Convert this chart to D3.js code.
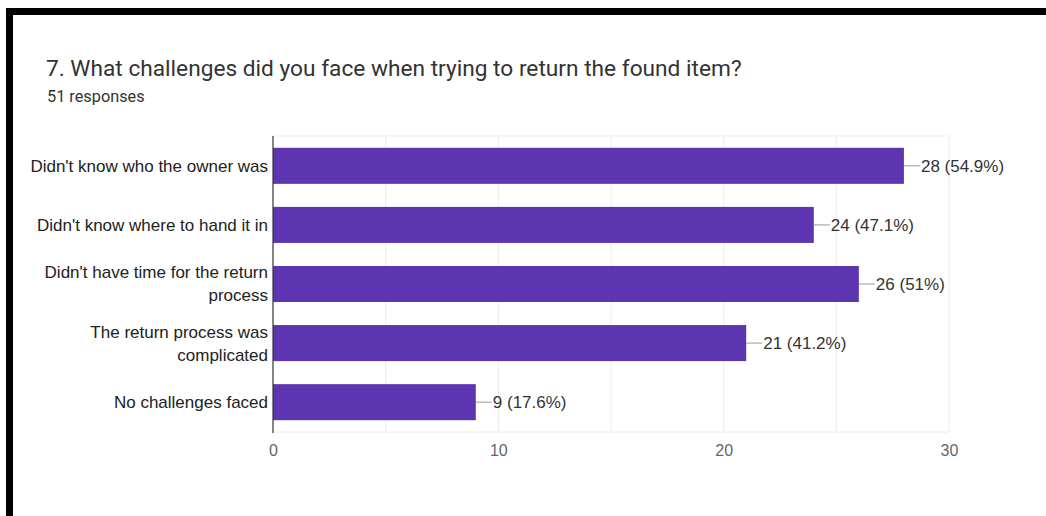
<!DOCTYPE html>
<html>
<head>
<meta charset="utf-8">
<script src="https://cdn.jsdelivr.net/npm/d3@7"></script>
<style>
  html, body { margin: 0; padding: 0; background: #fff; }
  svg { display: block; }
</style>
</head>
<body>
<svg id="chart" width="1046" height="516"></svg>
<script>
// Survey question 7: challenges faced when returning a found item
const categories = [
  ["Didn't know who the owner was"],
  ["Didn't know where to hand it in"],
  ["Didn't have time for the return", "process"],
  ["The return process was", "complicated"],
  ["No challenges faced"]
];
const counts = [28, 24, 26, 21, 9];
const percents = ["54.9%", "47.1%", "51%", "41.2%", "17.6%"];
const xTicks = [0, 10, 20, 30];
const gridTicks = [0, 5, 10, 15, 20, 25, 30];
const totalResponses = 51;

const svg = d3.select("#chart");
const titleFont = "Roboto, 'Liberation Sans', Arial, sans-serif";
const labelFont = "'Liberation Sans', Arial, sans-serif";

// Frame edges (top and left dark bars)
svg.append("rect").attr("x", 6).attr("y", 8).attr("width", 1040).attr("height", 7).attr("fill", "#000");
svg.append("rect").attr("x", 6).attr("y", 8).attr("width", 7).attr("height", 508).attr("fill", "#000");

// Title and subtitle
svg.append("text")
  .attr("x", 46).attr("y", 76)
  .attr("font-family", titleFont).attr("font-size", 22.7)
  .attr("fill", "#333")
  .text("7. What challenges did you face when trying to return the found item?");
svg.append("text")
  .attr("x", 47).attr("y", 102)
  .attr("font-family", titleFont).attr("font-size", 16.3)
  .attr("fill", "#333")
  .text(totalResponses + " responses");

const plotLeft = 273, plotRight = 949, plotTop = 136, plotBottom = 432;

const x = d3.scaleLinear().domain([0, 30]).range([plotLeft, plotRight]);
const y = d3.scaleBand()
  .domain(d3.range(categories.length))
  .range([plotTop, plotBottom])
  .paddingInner(0.39)
  .paddingOuter(0.2);

// Vertical gridlines
svg.append("g")
  .selectAll("line")
  .data(gridTicks.filter(d => d > 0))
  .join("line")
  .attr("x1", d => x(d)).attr("x2", d => x(d))
  .attr("y1", plotTop).attr("y2", plotBottom)
  .attr("stroke", "#ececec").attr("stroke-width", 1);

// Top and bottom plot borders
svg.append("line").attr("x1", plotLeft).attr("x2", plotRight).attr("y1", plotTop).attr("y2", plotTop)
  .attr("stroke", "#efefef");
svg.append("line").attr("x1", plotLeft).attr("x2", plotRight).attr("y1", plotBottom).attr("y2", plotBottom)
  .attr("stroke", "#ececec");

// Bars
svg.append("g")
  .selectAll("rect")
  .data(counts)
  .join("rect")
  .attr("x", x(0))
  .attr("y", (d, i) => y(i))
  .attr("width", d => x(d) - x(0))
  .attr("height", y.bandwidth())
  .attr("fill", "#5e35b1");

// Value labels with leader lines
const valueLabels = svg.append("g");
counts.forEach((d, i) => {
  const cy = y(i) + y.bandwidth() / 2;
  valueLabels.append("line")
    .attr("x1", x(d)).attr("x2", x(d) + 16)
    .attr("y1", cy).attr("y2", cy)
    .attr("stroke", "#999").attr("stroke-width", 1);
  valueLabels.append("text")
    .attr("x", x(d) + 17).attr("y", cy)
    .attr("dy", "0.35em")
    .attr("font-family", labelFont).attr("font-size", 17)
    .attr("fill", "#333")
    .text(d + " (" + percents[i] + ")");
});

// Category labels
const catLabels = svg.append("g");
categories.forEach((lines, i) => {
  const cy = y(i) + y.bandwidth() / 2;
  const lh = 23;
  const t = catLabels.append("text")
    .attr("text-anchor", "end")
    .attr("font-family", labelFont).attr("font-size", 17)
    .attr("fill", "#222");
  lines.forEach((s, j) => {
    t.append("tspan")
      .attr("x", plotLeft - 5)
      .attr("y", cy + (j - (lines.length - 1) / 2) * lh)
      .attr("dy", "0.35em")
      .text(s);
  });
});

// Axis line at zero
svg.append("line")
  .attr("x1", x(0)).attr("x2", x(0))
  .attr("y1", plotTop).attr("y2", plotBottom + 1)
  .attr("stroke", "#333").attr("stroke-width", 1.2);

// X axis tick labels
const xAxis = d3.axisBottom(x).tickValues(xTicks).tickSize(0).tickPadding(0);
const gx = svg.append("g").attr("transform", `translate(0,${plotBottom})`).call(xAxis);
gx.select(".domain").remove();
gx.selectAll("text")
  .attr("y", 24)
  .attr("dy", "0")
  .attr("font-family", labelFont).attr("font-size", 16)
  .attr("fill", "#666");
</script>
</body>
</html>
